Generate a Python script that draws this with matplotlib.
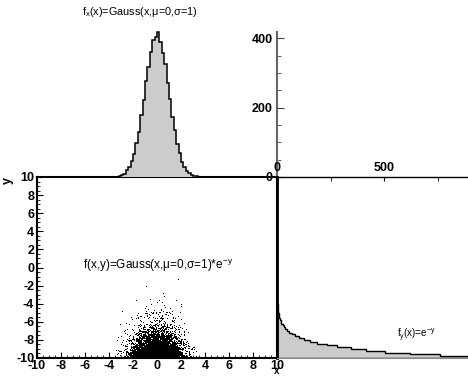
import numpy as np
import matplotlib
matplotlib.use('Agg')
import matplotlib.pyplot as plt

plt.rcParams['font.family'] = ['Liberation Sans', 'DejaVu Sans']
plt.rcParams['mathtext.fontset'] = 'custom'
plt.rcParams['mathtext.rm'] = 'Liberation Sans'
plt.rcParams['mathtext.it'] = 'Liberation Sans'
plt.rcParams['axes.unicode_minus'] = False

# 100 bins from -10 to 10, counts
bin_edges = np.linspace(-10, 10, 101)
gauss_counts = [0] * 32 + [1, 1, 3, 7, 10, 19, 28, 47, 65, 99, 131, 178, 221, 278, 318, 360,
                           395, 404, 418, 389, 358, 326, 270, 226, 172, 136, 95, 69, 43, 30,
                           17, 12, 5, 4, 2, 1] + [0] * 32
exp_counts = [925, 760, 620, 505, 415, 345, 280, 232, 188, 156, 126, 104, 86, 70, 57, 47, 38,
              31, 26, 21, 17, 14, 11, 9, 8, 6, 5, 4, 3, 3, 2, 2, 1, 1, 1, 1, 0, 1, 0, 1, 0, 0,
              1] + [0] * 57

W, H = 468, 377


def box(x0, y0, x1, y1):
    return [x0 / W, 1 - y1 / H, (x1 - x0) / W, (y1 - y0) / H]


fig = plt.figure(figsize=(W / 100, H / 100), dpi=100)
grey = '#cccccc'
fs = 9

# scatter panel: dot density from the two marginals, shown as dithered pixels
ax_sc = fig.add_axes(box(37, 177, 277, 358))
gx = np.array(gauss_counts, float)
ey = np.array(exp_counts, float)
n_tot = gx.sum()
centers = 0.5 * (bin_edges[1:] + bin_edges[:-1])
nx, ny = 240, 181
xc = -10 + (np.arange(nx) + 0.5) * 20 / nx
yc = -10 + (np.arange(ny) + 0.5) * 20 / ny
px_x = np.interp(xc, centers, gx)
px_y = np.interp(yc, centers, ey)
cell_area = (nx / 100) * (ny / 100)
dens = np.outer(px_y, px_x) / n_tot / cell_area
prob = 1 - np.exp(-1.2 * dens)
ii, jj = np.meshgrid(np.arange(nx), np.arange(ny))
# fixed hash threshold for dithering (rendering only)
thresh = (np.sin(ii * 12.9898 + jj * 78.233) * 43758.5453) % 1.0
img = (thresh < prob).astype(float)
ax_sc.imshow(img, origin='lower', extent=(-10, 10, -10, 10), cmap='Greys', vmin=0, vmax=1,
             interpolation='nearest', aspect='auto')
ax_sc.set_xlim(-10, 10)
ax_sc.set_ylim(-10, 10)
ax_sc.set_xticks(np.arange(-10, 11, 2))
ax_sc.set_yticks(np.arange(-10, 11, 2))
ax_sc.set_xticks(np.arange(-10, 10.1, 0.5), minor=True)
ax_sc.set_yticks(np.arange(-10, 10.1, 0.5), minor=True)
ax_sc.tick_params(which='both', direction='in', pad=2, labelsize=fs)
ax_sc.tick_params(axis='x', which='both', pad=1.5)
ax_sc.tick_params(which='major', length=4)
ax_sc.tick_params(which='minor', length=2)
for lab in ax_sc.get_xticklabels() + ax_sc.get_yticklabels():
    lab.set_fontweight('bold')
for s in ax_sc.spines.values():
    s.set_linewidth(1.5)
ax_sc.text(-6.2, 0.2, r'f(x,y)=Gauss(x,μ=0,σ=1)*e$^{-y}$', fontsize=8.5, va='center')

# top histogram of x
ax_hx = fig.add_axes(box(37, 32, 277, 177))
ax_hx.stairs(gauss_counts, bin_edges, fill=True, color=grey, clip_on=False)
ax_hx.stairs(gauss_counts, bin_edges, color='black', linewidth=1.1, clip_on=False)
ax_hx.set_xlim(-10, 10)
ax_hx.set_ylim(0, 418)
ax_hx.axis('off')

# count axis for the x histogram
ax_cnt = fig.add_axes(box(277, 32, 468, 177))
ax_cnt.set_ylim(0, 418)
ax_cnt.set_yticks([0, 200, 400])
ax_cnt.set_yticks(np.arange(0, 418, 50), minor=True)
ax_cnt.set_xticks([])
for k in ['top', 'right', 'bottom']:
    ax_cnt.spines[k].set_visible(False)
ax_cnt.spines['left'].set_color('#666666')
ax_cnt.spines['left'].set_linewidth(1.5)
ax_cnt.tick_params(which='both', direction='in', color='#444444', pad=3, labelsize=fs)
ax_cnt.tick_params(which='major', length=5)
ax_cnt.tick_params(which='minor', length=3)
ax_cnt.patch.set_visible(False)
for lab in ax_cnt.get_yticklabels():
    lab.set_fontweight('bold')

# side histogram of y, drawn horizontally
ax_hy = fig.add_axes(box(277, 177, 468, 358))
ax_hy.stairs(exp_counts, bin_edges, orientation='horizontal', fill=True, color=grey)
ax_hy.stairs(exp_counts, bin_edges, orientation='horizontal', color='black', linewidth=1.0)
ax_hy.set_xlim(0, 892)
ax_hy.set_ylim(-10, 10)
ax_hy.xaxis.tick_top()
ax_hy.set_xticks([0, 500])
ax_hy.set_xticks([250, 750], minor=True)
ax_hy.set_yticks([])
ax_hy.tick_params(which='both', direction='in', length=3, pad=2, labelsize=fs)
for lab in ax_hy.get_xticklabels():
    lab.set_fontweight('bold')
ax_hy.spines['right'].set_visible(False)
ax_hy.spines['bottom'].set_color('#888888')
ax_hy.spines['left'].set_linewidth(2)
ax_hy.spines['top'].set_linewidth(1)
ax_hy.patch.set_visible(False)
ax_hy.text(561, -7.46, r'f$_{y}$(x)=e$^{-y}$', fontsize=7, va='center')

fig.text(140 / W, 1 - 12 / H, r'f$_{x}$(x)=Gauss(x,μ=0,σ=1)', fontsize=7.8, ha='center', va='center')
fig.text(8 / W, 1 - 181 / H, 'y', rotation=90, ha='center', va='center', fontsize=fs, fontweight='bold')
fig.text(277 / W, 0.5 / H, 'x', ha='center', va='bottom', fontsize=7, fontweight='bold')

fig.savefig('out.png', dpi=100)
